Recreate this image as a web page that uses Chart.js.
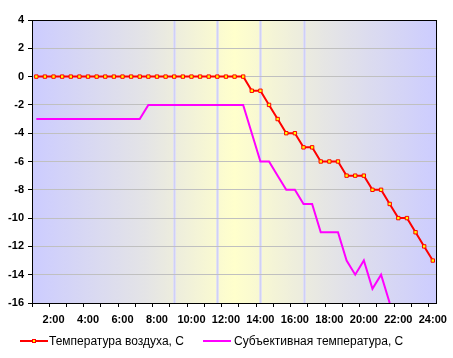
<!DOCTYPE html>
<html>
<head>
<meta charset="utf-8">
<script src="https://cdn.jsdelivr.net/npm/chart.js@4"></script>
<style>
  html, body { margin: 0; padding: 0; background: #ffffff; }
  #wrap { position: relative; width: 453px; height: 358px; }
  #legend { position: absolute; left: 0; top: 0; width: 453px; height: 358px; pointer-events: none;
            font-family: Arial, "Liberation Sans", sans-serif; font-size: 12px; color: #000; }
  .ln { position: absolute; height: 2px; }
  .tx { position: absolute; line-height: 14px; white-space: nowrap; }
  .mk { position: absolute; width: 4px; height: 4px; box-sizing: border-box; background: #ffff00; border: 1px solid #ff0000; }
</style>
</head>
<body>
<div id="wrap">
  <canvas id="c" width="453" height="358"></canvas>
  <div id="legend"></div>
</div>
<script>
// ---- data ----
const timeLabels = ['1:00','1:30','2:00','2:30','3:00','3:30','4:00','4:30','5:00','5:30',
  '6:00','6:30','7:00','7:30','8:00','8:30','9:00','9:30','10:00','10:30',
  '11:00','11:30','12:00','12:30','13:00','13:30','14:00','14:30','15:00','15:30',
  '16:00','16:30','17:00','17:30','18:00','18:30','19:00','19:30','20:00','20:30',
  '21:00','21:30','22:00','22:30','23:00','23:30','24:00'];

const airTemp = [0,0,0,0,0,0,0,0,0,0,
  0,0,0,0,0,0,0,0,0,0,
  0,0,0,0,0,-1,-1,-2,-3,-4,
  -4,-5,-5,-6,-6,-6,-7,-7,-7,-8,
  -8,-9,-10,-10,-11,-12,-13];

const feltTemp = [-3,-3,-3,-3,-3,-3,-3,-3,-3,-3,
  -3,-3,-3,-2,-2,-2,-2,-2,-2,-2,
  -2,-2,-2,-2,-2,-4,-6,-6,-7,-8,
  -8,-9,-9,-11,-11,-11,-13,-14,-13,-15,
  -14,-16,null,null,null,null,null];

const seriesNames = ['Температура воздуха, С', 'Субъективная температура, С'];
const yTicks = [4, 2, 0, -2, -4, -6, -8, -10, -12, -14, -16];
const bandTimes = ['9:00', '11:30', '14:00', '16:30'];

// ---- plugins ----
const backdrop = {
  id: 'backdrop',
  beforeDraw(chart) {
    const {ctx, chartArea: a, scales} = chart;
    ctx.save();
    const g = ctx.createLinearGradient(a.left, 0, a.right, 0);
    g.addColorStop(0, '#ccccff');
    g.addColorStop(0.28, '#e4e4e6');
    g.addColorStop(0.5, '#ffffcc');
    g.addColorStop(0.72, '#e6e6e4');
    g.addColorStop(1, '#ccccff');
    ctx.fillStyle = g;
    ctx.fillRect(a.left, a.top, a.right - a.left, a.bottom - a.top);
    bandTimes.forEach(t => {
      const x = Math.round(scales.x.getPixelForValue(timeLabels.indexOf(t)));
      ctx.fillStyle = 'rgba(220,220,250,0.8)';
      ctx.fillRect(x - 1, a.top, 3, a.bottom - a.top);
      ctx.fillStyle = 'rgba(205,205,246,0.85)';
      ctx.fillRect(x, a.top, 1, a.bottom - a.top);
    });
    ctx.restore();
  },
  afterDatasetsDraw(chart) {
    const {ctx, chartArea: a} = chart;
    ctx.save();
    ctx.strokeStyle = '#000';
    ctx.lineWidth = 1;
    ctx.strokeRect(Math.round(a.left) + 0.5, Math.round(a.top) + 0.5,
                   Math.round(a.right - a.left) - 1, Math.round(a.bottom - a.top));
    ctx.restore();
  }
};

const font = {family: 'Arial, "Liberation Sans", sans-serif', size: 11, weight: 'bold'};

new Chart(document.getElementById('c'), {
  type: 'line',
  data: {
    labels: timeLabels,
    datasets: [
      {
        label: seriesNames[0],
        data: airTemp,
        borderColor: '#ff0000',
        borderWidth: 2,
        tension: 0,
        pointStyle: 'rect',
        pointRadius: 2.4,
        pointBackgroundColor: '#ffff00',
        pointBorderColor: '#ff0000',
        pointBorderWidth: 1,
        pointHoverRadius: 2.4
      },
      {
        label: seriesNames[1],
        data: feltTemp,
        borderColor: '#ff00ff',
        borderWidth: 2,
        tension: 0,
        pointRadius: 0,
        spanGaps: false
      }
    ]
  },
  options: {
    responsive: false,
    animation: false,
    events: [],
    layout: { padding: { left: 0, top: 20, right: 13, bottom: 30 } },
    plugins: { legend: { display: false }, tooltip: { enabled: false } },
    scales: {
      x: {
        type: 'category',
        offset: true,
        border: { display: false },
        grid: {
          offset: true,
          drawOnChartArea: false,
          tickLength: 4,
          color: ctx => (ctx.index % 2 === 0 && ctx.index < timeLabels.length) ? '#000' : 'rgba(0,0,0,0)',
          tickColor: ctx => (ctx.index % 2 === 0 && ctx.index < timeLabels.length) ? '#000' : 'rgba(0,0,0,0)'
        },
        ticks: {
          autoSkip: false,
          maxRotation: 0,
          minRotation: 0,
          padding: 6,
          color: '#000',
          font: font,
          callback: (v, i) => (i % 4 === 2 ? timeLabels[i] : '')
        },
        afterFit: s => { s.height = 25; }
      },
      y: {
        min: -16,
        max: 4,
        border: { display: false },
        grid: { color: '#c0c0c0', tickColor: '#000', tickLength: 4, lineWidth: 1 },
        afterBuildTicks: s => { s.ticks = yTicks.map(v => ({value: v})); },
        ticks: { padding: 4, color: '#000', font: font },
        afterFit: s => { s.width = 32; }
      }
    }
  },
  plugins: [backdrop]
});

// ---- legend ----
const lg = document.getElementById('legend');
lg.innerHTML =
  '<div class="ln" style="left:20px;top:340px;width:28px;background:#ff0000"></div>' +
  '<div class="mk" style="left:32px;top:339px"></div>' +
  '<span class="tx" style="left:49px;top:334px">' + seriesNames[0] + '</span>' +
  '<div class="ln" style="left:203px;top:340px;width:28px;background:#ff00ff"></div>' +
  '<span class="tx" style="left:234px;top:334px">' + seriesNames[1] + '</span>';
</script>
</body>
</html>
